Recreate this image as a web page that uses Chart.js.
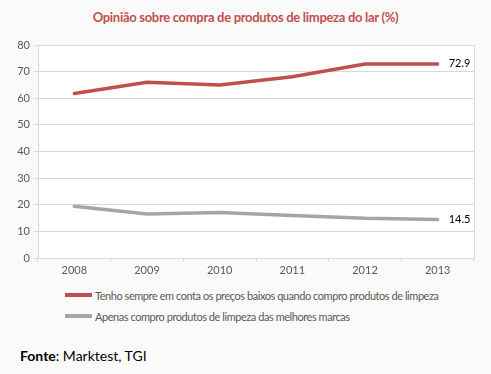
<!DOCTYPE html>
<html>
<head>
<meta charset="utf-8">
<script src="https://cdn.jsdelivr.net/npm/chart.js@4"></script>
<style>
    body { margin: 0; background: #fafafa; font-family: Lato, "Open Sans", sans-serif; }
    #wrap { position: relative; width: 491px; height: 374px; }
    #title { position: absolute; top: 9px; left: 0; width: 491px; text-align: center;
             color: #c0504d; font-weight: bold; font-size: 13px; letter-spacing: -0.3px; }
    #chart { position: absolute; top: 0; left: 0; }
    #legend { position: absolute; left: 65px; top: 285px; font-size: 11px; color: #595959; letter-spacing: -0.45px; }
    .item { height: 20.7px; display: flex; align-items: center; }
    .swatch { width: 27px; height: 4px; margin-right: 3px; }
    #fonte { position: absolute; left: 20px; top: 347px; font-size: 14px; color: #000; }
</style>
</head>
<body>
<div id="wrap">
    <div id="title">Opinião sobre compra de produtos de limpeza do lar (%)</div>
    <canvas id="chart" width="491" height="282"></canvas>
    <div id="legend"></div>
    <div id="fonte"><b>Fonte</b>: Marktest, TGI</div>
</div>
<script>
const years = ['2008', '2009', '2010', '2011', '2012', '2013'];
const precosBaixos = [61.8, 66.0, 65.0, 68.1, 72.9, 72.9];
const melhoresMarcas = [19.4, 16.5, 17.1, 16.0, 14.9, 14.5];
const seriesNames = [
    'Tenho sempre em conta os preços baixos quando compro produtos de limpeza',
    'Apenas compro produtos de limpeza das melhores marcas'
];
const seriesColors = ['#c0504d', '#a5a5a5'];

// linha da direita do gráfico + rótulo do último ponto
const extras = {
    id: 'extras',
    afterDatasetsDraw(chart) {
        const ctx = chart.ctx, area = chart.chartArea;
        ctx.save();
        ctx.strokeStyle = '#d9d9d9';
        ctx.lineWidth = 1;
        ctx.beginPath();
        ctx.moveTo(area.right + 0.5, area.top);
        ctx.lineTo(area.right + 0.5, area.bottom);
        ctx.stroke();
        ctx.fillStyle = '#000';
        ctx.font = '11px Lato, "Open Sans", sans-serif';
        ctx.textBaseline = 'middle';
        chart.data.datasets.forEach(function (ds, i) {
            const pts = chart.getDatasetMeta(i).data;
            const last = pts[pts.length - 1];
            ctx.fillText(ds.data[ds.data.length - 1].toFixed(1), last.x + 11, last.y);
        });
        ctx.restore();
    }
};

const chart = new Chart(document.getElementById('chart'), {
    type: 'line',
    data: {
        labels: years,
        datasets: [
            { label: seriesNames[0], data: precosBaixos, borderColor: seriesColors[0], borderWidth: 3.5 },
            { label: seriesNames[1], data: melhoresMarcas, borderColor: seriesColors[1], borderWidth: 3.5 }
        ]
    },
    options: {
        responsive: false,
        animation: false,
        layout: { padding: { top: 45, right: 17, left: 0, bottom: 0 } },
        elements: { point: { radius: 0 }, line: { tension: 0, borderCapStyle: 'round' } },
        plugins: { legend: { display: false }, tooltip: { enabled: false } },
        scales: {
            x: {
                offset: true,
                grid: { offset: true, drawOnChartArea: false, color: '#d9d9d9', tickLength: 4 },
                border: { color: '#d9d9d9' },
                ticks: { color: '#595959', font: { size: 11, family: 'Lato' }, padding: 2 },
                afterFit: function (s) { s.height = 24; }
            },
            y: {
                min: 0, max: 80,
                ticks: { stepSize: 10, color: '#595959', font: { size: 11, family: 'Lato' }, padding: 4 },
                grid: { color: '#d9d9d9', tickLength: 4 },
                border: { color: '#d9d9d9' },
                afterFit: function (s) { s.width = 38; }
            }
        }
    },
    plugins: [{
        id: 'bg',
        beforeDraw(chart) {
            const a = chart.chartArea;
            chart.ctx.save();
            chart.ctx.fillStyle = '#fff';
            chart.ctx.fillRect(a.left, a.top, a.right - a.left, a.bottom - a.top);
            chart.ctx.restore();
        }
    }, extras]
});

const legend = document.getElementById('legend');
seriesNames.forEach(function (name, i) {
    const row = document.createElement('div');
    row.className = 'item';
    row.innerHTML = '<span class="swatch" style="background:' + seriesColors[i] + '"></span>' + name;
    legend.appendChild(row);
});
</script>
</body>
</html>
